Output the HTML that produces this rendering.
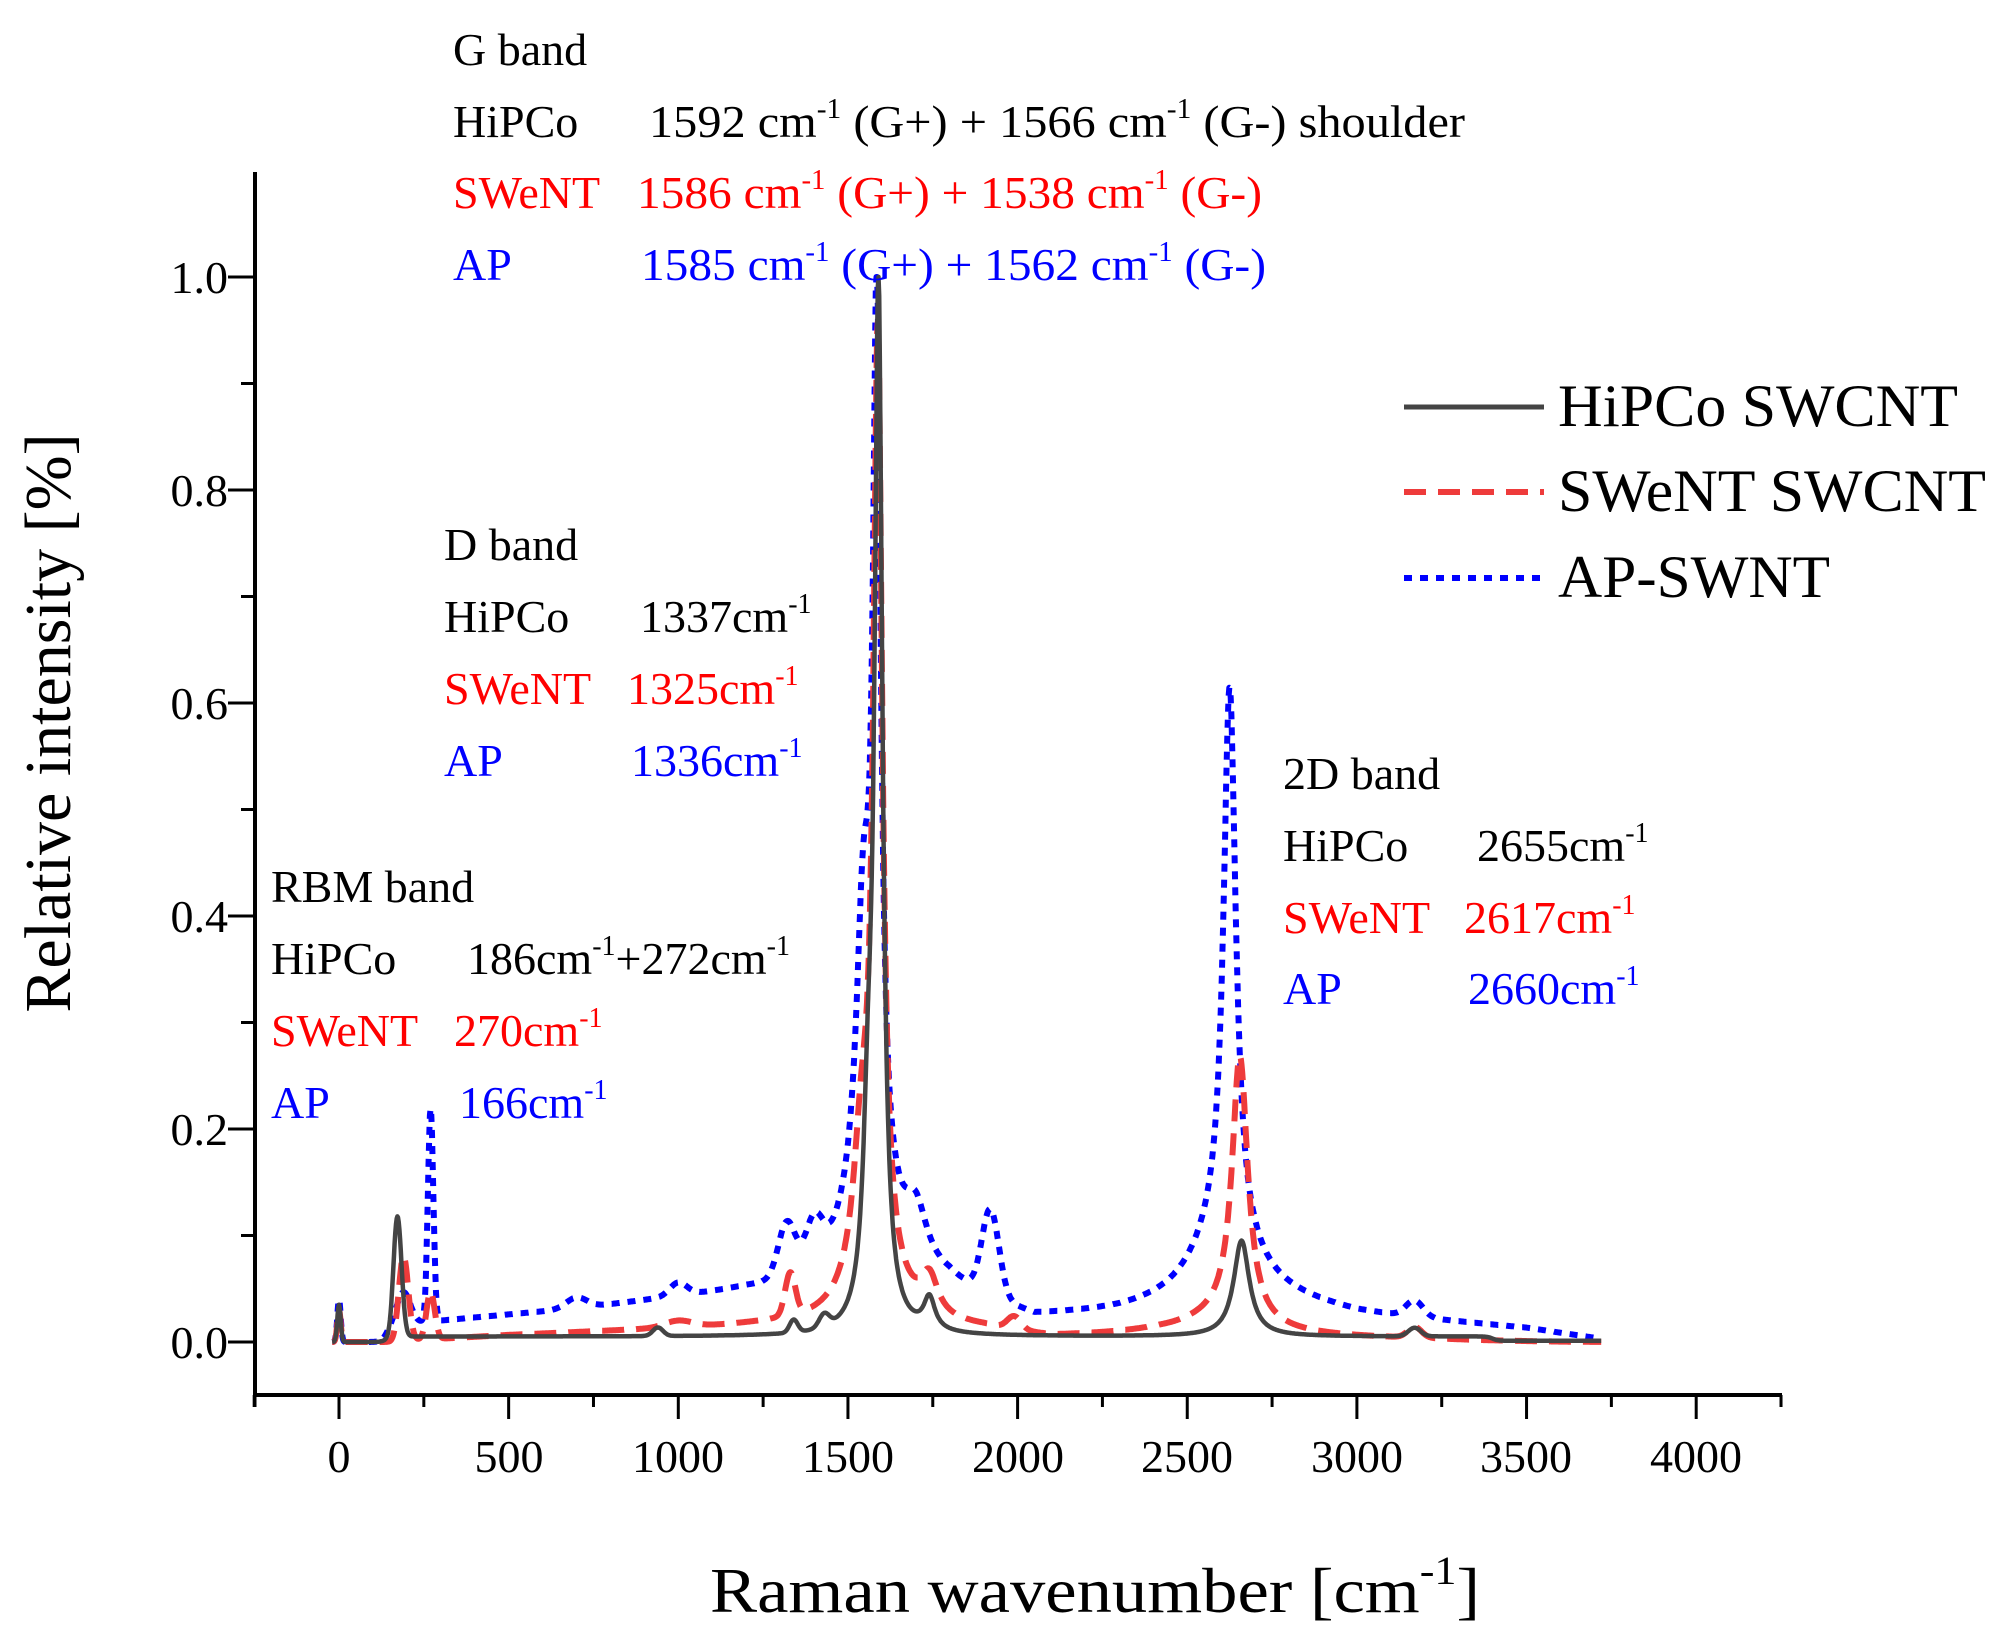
<!DOCTYPE html>
<html><head><meta charset="utf-8"><style>
html,body{margin:0;padding:0;background:#fff;}
svg{display:block;font-family:"Liberation Serif",serif;}
</style></head><body>
<svg id="s" width="2006" height="1645" xmlns="http://www.w3.org/2000/svg">
<rect width="2006" height="1645" fill="#fff"/>
<g id="curves"></g>
<line x1="255" y1="172" x2="255" y2="1397" stroke="#000" stroke-width="4"/>
<line x1="253" y1="1395" x2="1782" y2="1395" stroke="#000" stroke-width="4"/>
<g id="ticks" stroke="#000" stroke-width="3"></g>
<g font-size="46" text-anchor="end" fill="#000">
<text x="228" y="293">1.0</text><text x="228" y="506">0.8</text><text x="228" y="719">0.6</text>
<text x="228" y="932">0.4</text><text x="228" y="1145">0.2</text><text x="228" y="1358">0.0</text>
</g>
<g font-size="46" text-anchor="middle" fill="#000">
<text x="339" y="1472">0</text><text x="509" y="1472">500</text><text x="678" y="1472">1000</text>
<text x="848" y="1472">1500</text><text x="1018" y="1472">2000</text><text x="1187" y="1472">2500</text>
<text x="1357" y="1472">3000</text><text x="1526" y="1472">3500</text><text x="1696" y="1472">4000</text>
</g>
<text x="710" y="1612" font-size="64" textLength="770" lengthAdjust="spacingAndGlyphs">Raman wavenumber [cm<tspan font-size="40" dy="-28">-1</tspan><tspan dy="28">]</tspan></text>
<text transform="translate(70,723) rotate(-90)" font-size="66" text-anchor="middle">Relative intensity [%]</text>
<g font-size="46">
<text x="453" y="65">G band</text>
<text x="453" y="137">HiPCo</text>
<text x="649" y="137" textLength="816" lengthAdjust="spacingAndGlyphs">1592 cm<tspan font-size="28" dy="-19">-1</tspan><tspan dy="19"> (G+) + 1566 cm</tspan><tspan font-size="28" dy="-19">-1</tspan><tspan dy="19"> (G-) shoulder</tspan></text>
<g fill="#ff0000"><text x="453" y="208">SWeNT</text>
<text x="637" y="208" textLength="625" lengthAdjust="spacingAndGlyphs">1586 cm<tspan font-size="28" dy="-19">-1</tspan><tspan dy="19"> (G+) + 1538 cm</tspan><tspan font-size="28" dy="-19">-1</tspan><tspan dy="19"> (G-)</tspan></text></g>
<g fill="#0000ff"><text x="453" y="280">AP</text>
<text x="641" y="280" textLength="625" lengthAdjust="spacingAndGlyphs">1585 cm<tspan font-size="28" dy="-19">-1</tspan><tspan dy="19"> (G+) + 1562 cm</tspan><tspan font-size="28" dy="-19">-1</tspan><tspan dy="19"> (G-)</tspan></text></g>
<text x="444" y="560">D band</text>
<text x="444" y="632">HiPCo</text><text x="640" y="632">1337cm<tspan font-size="28" dy="-19">-1</tspan></text>
<g fill="#ff0000"><text x="444" y="704">SWeNT</text><text x="627" y="704">1325cm<tspan font-size="28" dy="-19">-1</tspan></text></g>
<g fill="#0000ff"><text x="444" y="776">AP</text><text x="631" y="776">1336cm<tspan font-size="28" dy="-19">-1</tspan></text></g>
<text x="271" y="902">RBM band</text>
<text x="271" y="974">HiPCo</text><text x="467" y="974">186cm<tspan font-size="28" dy="-19">-1</tspan><tspan dy="19">+272cm</tspan><tspan font-size="28" dy="-19">-1</tspan></text>
<g fill="#ff0000"><text x="271" y="1046">SWeNT</text><text x="454" y="1046">270cm<tspan font-size="28" dy="-19">-1</tspan></text></g>
<g fill="#0000ff"><text x="271" y="1118">AP</text><text x="459" y="1118">166cm<tspan font-size="28" dy="-19">-1</tspan></text></g>
<text x="1283" y="789">2D band</text>
<text x="1283" y="861">HiPCo</text><text x="1477" y="861">2655cm<tspan font-size="28" dy="-19">-1</tspan></text>
<g fill="#ff0000"><text x="1283" y="933">SWeNT</text><text x="1464" y="933">2617cm<tspan font-size="28" dy="-19">-1</tspan></text></g>
<g fill="#0000ff"><text x="1283" y="1004">AP</text><text x="1468" y="1004">2660cm<tspan font-size="28" dy="-19">-1</tspan></text></g>
</g>
<line x1="1404" y1="407" x2="1544" y2="407" stroke="#444" stroke-width="5"/>
<line x1="1404" y1="492" x2="1544" y2="492" stroke="#ee3b3b" stroke-width="6" stroke-dasharray="22,12"/>
<line x1="1404" y1="578" x2="1544" y2="578" stroke="#0000ff" stroke-width="6" stroke-dasharray="8,8"/>
<g font-size="60"><text x="1558" y="426" textLength="400" lengthAdjust="spacingAndGlyphs">HiPCo SWCNT</text><text x="1558" y="511" textLength="428" lengthAdjust="spacingAndGlyphs">SWeNT SWCNT</text><text x="1558" y="597" textLength="272" lengthAdjust="spacingAndGlyphs">AP-SWNT</text></g>
</svg>
<script>
var NS="http://www.w3.org/2000/svg";
function X(w){return 339+0.3393*w;}
function Y(v){return 1342-1065*v;}
function L(w,c,h,g){return h/(1+((w-c)/g)*((w-c)/g));}
function G(w,c,h,g){return h*Math.exp(-0.5*((w-c)/g)*((w-c)/g));}
function st(w,a){return 1/(1+Math.exp(-(w-a)/8));}
function interp(t,w){if(w<=t[0][0])return t[0][1];for(var i=1;i<t.length;i++){if(w<=t[i][0]){var a=t[i-1],b=t[i];return a[1]+(b[1]-a[1])*(w-a[0])/(b[0]-a[0]);}}return t[t.length-1][1];}
function hip(w){var b=st(w,140);return G(w,0,0.035,5)+b*(0.005+G(w,172,0.115,12)+G(w,940,0.008,15)+G(w,1340,0.012,12)+G(w,1430,0.012,15)
+L(w,1590,0.96,14)+L(w,1560,0.15,18)+L(w,1740,0.03,20)+L(w,2660,0.09,28)+G(w,3170,0.008,18)-0.004*st(w,3400));}
var SB=[[150,0],[500,0.006],[1000,0.012],[1300,0.015],[1900,0.01],[2100,0.003],[2400,0.006],[3000,0.003],[3720,0]];
function swe(w){var b=st(w,150);return G(w,0,0.03,5)+b*(interp(SB,w)+G(w,190,0.08,14)+G(w,270,0.045,12)+G(w,1000,0.006,40)+G(w,1330,0.04,15)
+L(w,1588,0.87,16)+L(w,1540,0.12,30)+L(w,1580,0.04,90)+L(w,1740,0.035,30)+G(w,1990,0.012,20)+L(w,2655,0.25,28)+L(w,2600,0.015,150)+G(w,3170,0.01,20))*(w>3200?Math.max(0,1-(w-3200)/600):1);}
var AB=[[150,0.015],[400,0.022],[700,0.03],[1000,0.04],[1200,0.045],[1800,0.045],[2050,0.02],[2300,0.025],[2450,0.03],[2700,0.04],[3000,0.025],[3500,0.012],[3700,0.003]];
function ap(w){var b=st(w,140);return G(w,0,0.04,5)+b*(interp(AB,w)+G(w,270,0.2,8)+G(w,190,0.03,20)+G(w,700,0.01,30)+G(w,1000,0.012,25)+G(w,1320,0.05,25)+G(w,1400,0.04,25)
+L(w,1585,0.82,14)+L(w,1545,0.25,25)+L(w,1560,0.08,100)+L(w,1700,0.05,40)+G(w,1920,0.08,25)+L(w,2625,0.52,22)+L(w,2600,0.06,110)+G(w,3170,0.015,25));}
function path(f,a,b){var d="";for(var w=a;w<=b;w+=2){d+=(d?"L":"M")+X(w).toFixed(1)+","+Y(Math.min(1,f(w))).toFixed(1);}return d;}
var g=document.getElementById("curves");
function add(d,col,sw,da){var p=document.createElementNS(NS,"path");p.setAttribute("d",d);p.setAttribute("fill","none");p.setAttribute("stroke",col);p.setAttribute("stroke-width",sw);if(da)p.setAttribute("stroke-dasharray",da);p.setAttribute("stroke-linejoin","round");g.appendChild(p);}
add(path(ap,-20,3710),"#0000ff",6,"8,8");
add(path(swe,-20,3720),"#ee3b3b",6,"22,12");
add(path(hip,-20,3720),"#444",4.5,null);
var t=document.getElementById("ticks"),s="";
function ln(a,b,c,d){s+='<line x1="'+a+'" y1="'+b+'" x2="'+c+'" y2="'+d+'"/>';}
for(var i=0;i<=10;i++){var y=1342-106.5*i;ln(i%2?241:228,y,255,y);}
for(var k=-1;k<=17;k++){var x=X(k*250);if(x<252||x>1783)continue;ln(x,1395,x,k%2?1407:1419);}
ln(255,1395,255,1407);ln(1781,1395,1781,1407);
t.innerHTML=s;
</script>
</body></html>
